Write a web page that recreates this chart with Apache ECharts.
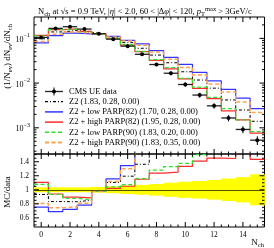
<!DOCTYPE html>
<html><head><meta charset="utf-8">
<script src="https://cdn.jsdelivr.net/npm/echarts@6/dist/echarts.min.js"></script>
<style>html,body{margin:0;padding:0;background:#fff}#c{width:274px;height:248px}</style>
</head><body><div id="c"></div>
<script>
// ---- data ----
const binCenters = [0,1,2,3,4,5,6,7,8,9,10,11,12,13,14,15];
const dataValues = [0.105,0.167,0.182,0.161,0.127,0.096,0.067,0.044,0.026,0.0166,0.0093,0.0054,0.0031,0.00166,0.00092,0.00053];
const dataRelErr = [0.035,0.035,0.035,0.035,0.04,0.048,0.06,0.07,0.083,0.1,0.115,0.125,0.14,0.16,0.18,0.22];
const mcZ2     = [0.098,0.139,0.151,0.137,0.124,0.106,0.080,0.060,0.0423,0.0285,0.0179,0.0117,0.0077,0.0042,0.0025,0.0014];
const mcLow82  = [0.079,0.115,0.131,0.126,0.124,0.111,0.090,0.075,0.0533,0.0376,0.0262,0.0173,0.0112,0.0072,0.0046,0.0027];
const mcHigh82 = [0.116,0.157,0.163,0.1426,0.1257,0.0979,0.0704,0.0506,0.0322,0.0208,0.0124,0.0076,0.0045,0.0024,0.0015,0.00076];
const mcLow90  = [0.113,0.156,0.160,0.138,0.124,0.100,0.072,0.051,0.0333,0.0221,0.0128,0.0081,0.0048,0.0027,0.0015,0.00082];
const mcHigh90 = [0.0845,0.124,0.138,0.130,0.124,0.1075,0.087,0.070,0.0494,0.0339,0.0224,0.0151,0.0095,0.0063,0.0038,0.0022];
const xTickLabels = [0,2,4,6,8,10,12,14];
const ratioTickLabels = [0.6,0.8,1,1.2,1.4];
const logDecades = [-4,-3,-2,-1];
const dataName = 'CMS UE data';
const mcNames = ['Z2 (1.83, 0.28, 0.00)','Z2 + low PARP(82) (1.70, 0.28, 0.00)','Z2 + high PARP(82) (1.95, 0.28, 0.00)','Z2 + low PARP(90) (1.83, 0.20, 0.00)','Z2 + high PARP(90) (1.83, 0.35, 0.00)'];

// ---- styles ----
const FONT = 'Liberation Serif';
const mcSets = [
  {values: mcZ2,     color:'#000000', type:[3,2,1,2], width:1},
  {values: mcLow82,  color:'#3434ff', type:'solid',   width:1.2},
  {values: mcHigh82, color:'#ff2a2a', type:'solid',   width:1.2},
  {values: mcLow90,  color:'#2ee02e', type:[4,2.5],   width:1.3},
  {values: mcHigh90, color:'#ffa24f', type:[4,2.5],   width:1.5}
];
const X_MIN = -0.5, X_MAX = 15.5, Y_MIN = 2.6e-4, Y_MAX = 0.3, R_MIN = 0.47, R_MAX = 1.51;

function stepPoints(vals){
  const pts = vals.map((v,i)=>[binCenters[i]-0.5, v]);
  pts.push([binCenters[binCenters.length-1]+0.5, vals[vals.length-1]]);
  return pts;
}

const series = [];
mcSets.forEach((s,k)=>{
  series.push({name: mcNames[k], type:'line', xAxisIndex:0, yAxisIndex:0, step:'end', symbol:'none', showSymbol:false,
    data: stepPoints(s.values), lineStyle:{color:s.color, type:s.type, width:s.width}, itemStyle:{color:s.color}, z:3, animation:false});
  const ratio = s.values.map((v,i)=>v/dataValues[i]);
  series.push({name: mcNames[k]+' ratio', type:'line', xAxisIndex:1, yAxisIndex:1, step:'end', symbol:'none', showSymbol:false,
    data: stepPoints(ratio), lineStyle:{color:s.color, type:s.type, width:s.width}, itemStyle:{color:s.color}, z:3, animation:false, clip:true});
});

// data points with error bars
series.push({name: dataName, type:'custom', xAxisIndex:0, yAxisIndex:0, z:5, animation:false,
  itemStyle:{color:'#000'},
  data: binCenters.map((x,i)=>[x, dataValues[i], dataValues[i]*dataRelErr[i]]),
  renderItem:(p,api)=>{
    const x=api.value(0), v=api.value(1), e=api.value(2);
    const c=api.coord([x,v]), lo=api.coord([x,v-e]), hi=api.coord([x,v+e]);
    const l=api.coord([x-0.5,v]), r=api.coord([x+0.5,v]);
    return {type:'group', children:[
      {type:'line', shape:{x1:l[0],y1:c[1],x2:r[0],y2:c[1]}, style:{stroke:'#222',lineWidth:1.3}},
      {type:'line', shape:{x1:c[0],y1:hi[1],x2:c[0],y2:lo[1]}, style:{stroke:'#000',lineWidth:1}},
      {type:'circle', shape:{cx:c[0],cy:c[1],r:2}, style:{fill:'#000'}}
    ]};
  }});

// ratio band
series.push({name:'band', type:'custom', xAxisIndex:1, yAxisIndex:1, z:1, animation:false, clip:true,
  data: binCenters.map((x,i)=>[x, dataRelErr[i]]),
  renderItem:(p,api)=>{
    const x=api.value(0), e=api.value(1);
    const a=api.coord([x-0.5,1+e]), b=api.coord([x+0.5,1-e]);
    return {type:'rect', shape:{x:a[0],y:a[1],width:b[0]-a[0]+0.5,height:b[1]-a[1]}, style:{fill:'#ffff00'}};
  },
  markLine:{silent:true, symbol:'none', label:{show:false}, lineStyle:{color:'#555500', type:'solid', width:1}, data:[{yAxis:1}], animation:false}
});

// ticks
function tickSeries(gridIdx){
  return {type:'custom', xAxisIndex:gridIdx, yAxisIndex:gridIdx, z:6, clip:false, animation:false, silent:true,
    data:[[0, gridIdx===0?0.01:1]],
    renderItem:(p,api)=>{
      const ch=[]; const yLo = gridIdx===0?Y_MIN:R_MIN, yHi = gridIdx===0?Y_MAX:R_MAX;
      const add=(x1,y1,x2,y2)=>ch.push({type:'line',shape:{x1,y1,x2,y2},style:{stroke:'#000',lineWidth:1}});
      for(let t=X_MIN+0.5;t<X_MAX-0.01;t+=0.5){
        const major = Math.abs(t/2-Math.round(t/2))<1e-9;
        const len = major?5:2.5;
        const top=api.coord([t,yHi]), bot=api.coord([t,yLo]);
        add(top[0],top[1],top[0],top[1]+len);
        add(bot[0],bot[1],bot[0],bot[1]-len);
      }
      const yt=[];
      if(gridIdx===0){
        logDecades.forEach(n=>{for(let k=1;k<=9;k++){const v=k*Math.pow(10,n); if(v>Y_MIN&&v<Y_MAX) yt.push([v,k===1]);}});
      } else {
        for(let i=10;i<=30;i++){const v=i*0.05; if(v>R_MIN&&v<R_MAX) yt.push([v, ratioTickLabels.some(q=>Math.abs(q-v)<1e-6)]);}
      }
      yt.forEach(([v,major])=>{
        const len=major?5:2.5;
        const L=api.coord([X_MIN,v]), R=api.coord([X_MAX,v]);
        add(L[0],L[1],L[0]+len,L[1]);
        add(R[0],R[1],R[0]-len,R[1]);
      });
      return {type:'group', children:ch};
    }};
}
series.push(tickSeries(0), tickSeries(1));

const subSup = {
  sb:{fontFamily:FONT,fontSize:6.5,lineHeight:7,verticalAlign:'bottom'},
  sp:{fontFamily:FONT,fontSize:6.5,lineHeight:7,verticalAlign:'top'},
  i:{fontFamily:FONT,fontSize:8.5,fontStyle:'italic',lineHeight:12}
};

// legend drawn as graphic elements (line samples keep their dash styles)
const LEG_X = 45, LEG_Y = 91.5, LEG_DY = 10.2, LEG_W = 18, LEG_TX = 69;
const legendGraphics = [];
legendGraphics.push(
  {type:'line', shape:{x1:LEG_X, y1:LEG_Y, x2:LEG_X+LEG_W, y2:LEG_Y}, style:{stroke:'#222', lineWidth:1.3}},
  {type:'line', shape:{x1:LEG_X+LEG_W/2, y1:LEG_Y-4, x2:LEG_X+LEG_W/2, y2:LEG_Y+4}, style:{stroke:'#000', lineWidth:1}},
  {type:'circle', shape:{cx:LEG_X+LEG_W/2, cy:LEG_Y, r:2}, style:{fill:'#000'}},
  {type:'text', x:LEG_TX, y:LEG_Y, style:{text:dataName, fontFamily:FONT, fontSize:8.5, fill:'#000', verticalAlign:'middle'}}
);
mcSets.forEach((s,k)=>{
  const y = LEG_Y + (k+1)*LEG_DY;
  legendGraphics.push(
    {type:'line', shape:{x1:LEG_X, y1:y, x2:LEG_X+LEG_W, y2:y}, style:{stroke:s.color, lineWidth:s.width+0.3, lineDash: Array.isArray(s.type)?s.type:null}},
    {type:'text', x:LEG_TX, y:y, style:{text:mcNames[k], fontFamily:FONT, fontSize:8.5, fill:'#000', verticalAlign:'middle'}}
  );
});

const chart = echarts.init(document.getElementById('c'), null, {renderer:'canvas'});
chart.setOption({
  animation:false,
  backgroundColor:'#fff',
  title:{left:33, top:1, text:'N{sb|ch} at √s = 0.9 TeV, |{i|η}| < 2.0, 60 < |Δ{i|φ}| < 120, {i|p}{sb|T}{sp|max} > 3GeV/c',
    textStyle:{fontFamily:FONT, fontSize:8.5, fontWeight:'normal', color:'#000', lineHeight:12, rich:subSup}},
  grid:[
    {left:34, right:9.5, top:17, height:137, show:true, borderColor:'#000', borderWidth:1, backgroundColor:'transparent'},
    {left:34, right:9.5, top:154, height:73, show:true, borderColor:'#000', borderWidth:1, backgroundColor:'transparent'}
  ],
  xAxis:[
    {gridIndex:0, type:'value', min:X_MIN, max:X_MAX, splitNumber:8, axisLabel:{show:false}, axisTick:{show:false}, axisLine:{show:false}, splitLine:{show:false}},
    {gridIndex:1, type:'value', min:X_MIN, max:X_MAX, splitNumber:8, axisTick:{show:false}, axisLine:{show:false}, splitLine:{show:false},
      axisLabel:{fontFamily:FONT, fontSize:7.5, color:'#000', margin:4, showMinLabel:true, showMaxLabel:true,
        formatter:v=>xTickLabels.some(q=>Math.abs(q-v)<1e-9)?String(Math.round(v)):''}}
  ],
  yAxis:[
    {gridIndex:0, type:'log', logBase:10, min:Y_MIN, max:Y_MAX, axisTick:{show:false}, axisLine:{show:false}, splitLine:{show:false},
      axisLabel:{margin:4, color:'#000', fontFamily:FONT, fontSize:8,
        formatter:v=>{const l=Math.log10(v); const n=Math.round(l); return (Math.abs(l-n)<1e-6 && logDecades.includes(n))?'{b|10}{s|−'+(-n)+'}':'';},
        rich:{b:{fontFamily:FONT,fontSize:8,lineHeight:11,verticalAlign:'bottom'}, s:{fontFamily:FONT,fontSize:6,lineHeight:7,verticalAlign:'top'}}}},
    {gridIndex:1, type:'value', min:R_MIN, max:R_MAX, splitNumber:5, axisTick:{show:false}, axisLine:{show:false}, splitLine:{show:false},
      axisLabel:{margin:5, color:'#000', fontFamily:FONT, fontSize:7.5,
        formatter:v=>{const q=ratioTickLabels.find(q=>Math.abs(q-v)<1e-6); return q===undefined?'':String(q);}}}
  ],
  graphic:[
    {type:'text', x:8, y:24, rotation:Math.PI/2, style:{text:'(1/N{sb|ev}) dN{sb|ev}/dN{sb|ch}', align:'right', verticalAlign:'middle', fontFamily:FONT, fontSize:9, fill:'#000', lineHeight:12, rich:subSup}},
    {type:'text', x:8, y:192, rotation:Math.PI/2, style:{text:'MC/data', align:'center', verticalAlign:'middle', fontFamily:FONT, fontSize:9, fill:'#000'}},
    {type:'text', x:264, y:243, style:{text:'N{sb|ch}', align:'right', verticalAlign:'middle', fontFamily:FONT, fontSize:9, fill:'#000', lineHeight:12, rich:subSup}}
  ].concat(legendGraphics),
  series: series
});
</script></body></html>
